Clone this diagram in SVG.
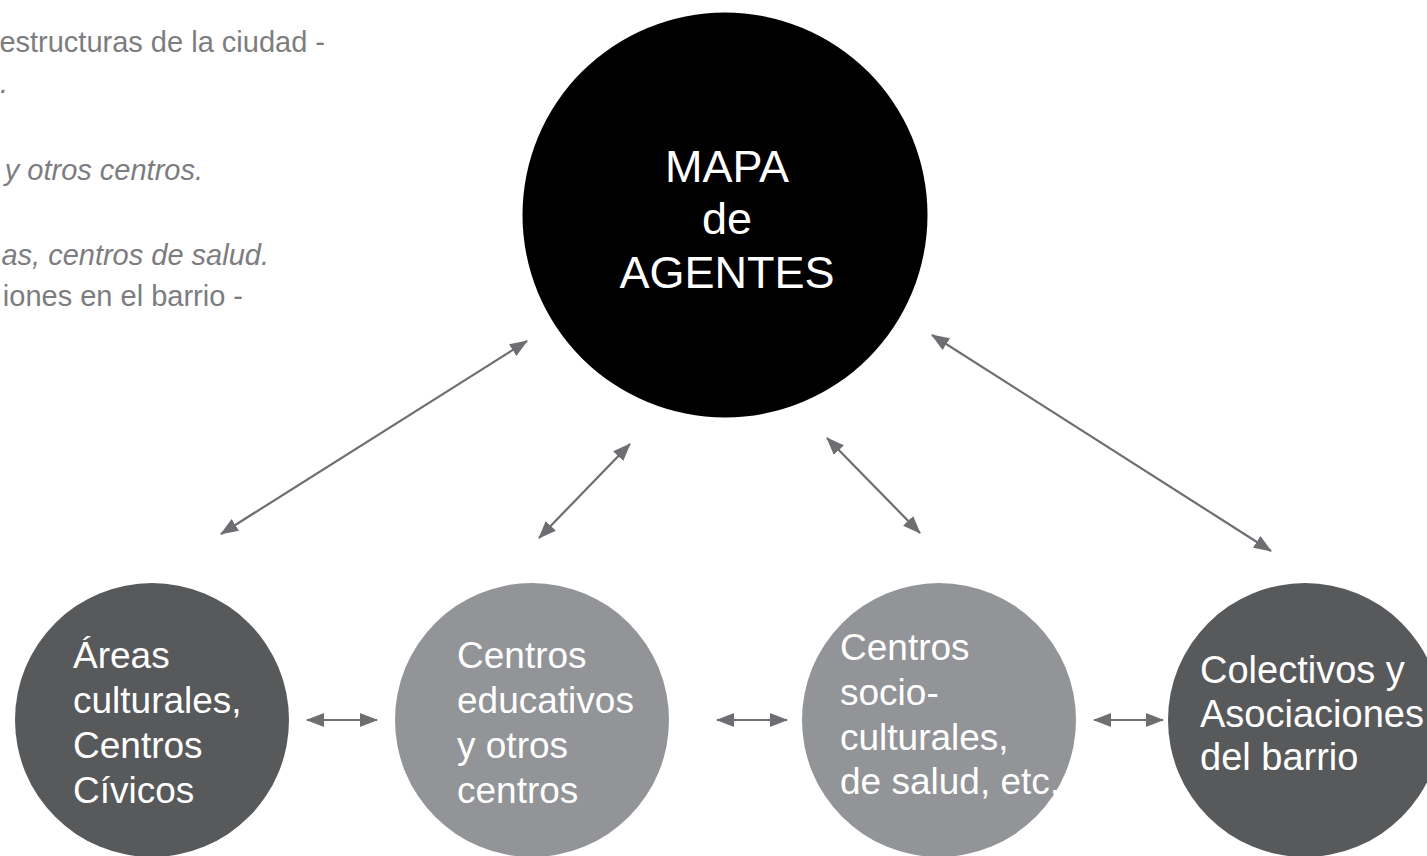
<svg xmlns="http://www.w3.org/2000/svg" width="1427" height="856" viewBox="0 0 1427 856">
<style>
.note{font-family:"Liberation Sans",Arial,sans-serif;font-size:29px;fill:#7c7d80;}
.it{font-style:italic;}
.lbl{font-family:"Liberation Sans",Arial,sans-serif;font-size:37px;fill:#ffffff;}
.big{font-family:"Liberation Sans",Arial,sans-serif;font-size:45px;fill:#ffffff;text-anchor:middle;}
.dark{fill:#58595b;}
.light{fill:#929497;}
.con{stroke:#6d6e71;stroke-width:2.2;fill:none;marker-start:url(#ah);marker-end:url(#ah);}
</style>
<defs>
<marker id="ah" viewBox="0 0 18 14" refX="17" refY="7" markerWidth="18" markerHeight="14" markerUnits="userSpaceOnUse" orient="auto-start-reverse">
<path d="M0,0 L18,7 L0,14 z" fill="#6d6e71"/>
</marker>
</defs>
<rect width="1427" height="856" fill="#ffffff"/>
<g id="notes">
<text class="note" x="325" y="52" text-anchor="end">estructuras de la ciudad -</text>
<text class="note it" x="8" y="93" text-anchor="end">.</text>
<text class="note it" x="203" y="180" text-anchor="end">y otros centros.</text>
<text class="note it" x="269" y="265" text-anchor="end">as, centros de salud.</text>
<text class="note" x="243" y="306" text-anchor="end">iones en el barrio -</text>
</g>
<g id="connectors">
<line class="con" x1="221" y1="534" x2="527" y2="341"/>
<line class="con" x1="539" y1="538" x2="630" y2="444"/>
<line class="con" x1="827" y1="438" x2="920" y2="533"/>
<line class="con" x1="932" y1="335" x2="1271" y2="551"/>
<line class="con" x1="307" y1="720" x2="377" y2="720"/>
<line class="con" x1="717" y1="720" x2="787" y2="720"/>
<line class="con" x1="1094" y1="720" x2="1163" y2="720"/>
</g>
<g id="mapa">
<circle cx="725" cy="215" r="202.5" fill="#000000"/>
<text class="big" x="727" y="182">MAPA</text>
<text class="big" x="727" y="234">de</text>
<text class="big" x="727" y="288">AGENTES</text>
</g>
<g id="areas">
<circle class="dark" cx="152" cy="720" r="137"/>
<text class="lbl" x="73" y="668">Áreas</text>
<text class="lbl" x="73" y="713">culturales,</text>
<text class="lbl" x="73" y="758">Centros</text>
<text class="lbl" x="73" y="803">Cívicos</text>
</g>
<g id="educativos">
<circle class="light" cx="532" cy="720" r="137"/>
<text class="lbl" x="457" y="668">Centros</text>
<text class="lbl" x="457" y="713">educativos</text>
<text class="lbl" x="457" y="758">y otros</text>
<text class="lbl" x="457" y="803">centros</text>
</g>
<g id="socioculturales">
<circle class="light" cx="939" cy="720" r="137"/>
<text class="lbl" x="840" y="660">Centros</text>
<text class="lbl" x="840" y="705">socio-</text>
<text class="lbl" x="840" y="750">culturales,</text>
<text class="lbl" x="840" y="794">de salud, etc.</text>
</g>
<g id="colectivos">
<circle class="dark" cx="1305" cy="720" r="137"/>
<text class="lbl" x="1200" y="683" style="font-size:38px">Colectivos y</text>
<text class="lbl" x="1200" y="727" style="font-size:38px">Asociaciones</text>
<text class="lbl" x="1200" y="770" style="font-size:38px">del barrio</text>
</g>
</svg>
